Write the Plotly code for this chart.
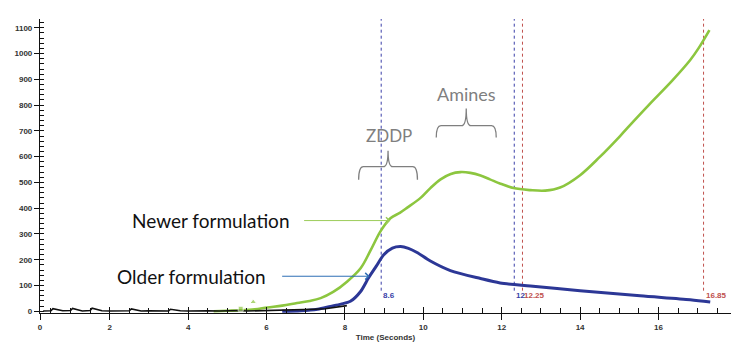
import plotly.graph_objects as go

# ---------------- data ----------------
newer_x = [4.65, 5.0, 5.34, 5.7, 6.02, 6.4, 6.78, 7.1, 7.38, 7.7, 8.06, 8.4, 8.65, 8.91, 9.16, 9.4, 9.59,
           9.93, 10.18, 10.44, 10.7, 10.95, 11.2, 11.46, 11.7, 11.97, 12.3, 12.73, 13.11, 13.49, 14.0,
           14.51, 15.02, 15.35, 15.78, 16.35, 16.81, 17.02, 17.3]
newer_y = [0, 2, 4, 8, 15, 22, 32, 40, 51, 75, 116, 167, 235, 311, 361, 382, 402,
           440, 478, 512, 533, 540, 537, 527, 512, 495, 478, 470, 468, 480, 528,
           600, 680, 735, 805, 895, 975, 1020, 1091]

older_x = [6.4, 6.88, 7.3, 7.63, 7.9, 8.14, 8.4, 8.6, 8.8, 8.99, 9.21, 9.42, 9.62, 9.84, 10.18, 10.69,
           11.46, 11.96, 12.73, 14.0, 15.53, 16.81, 17.32]
older_y = [0, 2, 8, 19, 28, 39, 77, 129, 175, 219, 245, 251, 244, 228, 195, 158,
           127, 110, 98, 80, 60, 45, 36]

base_x = [0.3, 0.5, 0.55, 0.8, 1.0, 1.05, 1.3, 1.5, 1.55, 1.8, 2.0, 2.3, 2.5, 2.55, 2.8, 3.0, 3.3,
          3.5, 3.55, 3.8, 4.0, 4.3, 4.5, 4.8, 5.0, 5.3, 5.5, 5.8, 6.0, 6.3, 6.6, 6.9, 7.2, 7.5, 7.8, 8.05]
base_y = [1, 2, 10, 2, 3, 11, 1, 3, 12, 2, 1, 3, 2, 9, 1, 2, 3,
          1, 8, 2, 1, 3, 2, 1, 2, 3, 1, 2, 4, 3, 5, 6, 8, 10, 15, 22]

flag_x = [5.34, 5.66]
flag_y = [10, 36]

blue_marks = [8.925, 12.32]
blue_labels = ["8.6", "12"]
red_marks = [12.53, 17.15]
red_labels = ["12.25", "16.85"]

x_major = [0.22, 2, 4, 6, 8, 10, 12, 14, 16]
x_major_text = ["0", "2", "4", "6", "8", "10", "12", "14", "16"]
y_major = [0, 100, 200, 300, 400, 500, 600, 700, 800, 900, 1000, 1100]

GREEN = "#8cc63f"
NAVY = "#2c3796"
DBLUE = "#3a3fa8"
RED = "#c0504d"
GRAY = "#7f7f7f"

fig = go.Figure()

# vertical marker lines
for v in blue_marks:
    fig.add_trace(go.Scatter(x=[v, v], y=[80, 1134], mode="lines",
                             line=dict(color=DBLUE, width=1, dash="dot"),
                             showlegend=False, hoverinfo="skip"))
for v in red_marks:
    fig.add_trace(go.Scatter(x=[v, v], y=[80, 1134], mode="lines",
                             line=dict(color=RED, width=1, dash="dot"),
                             showlegend=False, hoverinfo="skip"))

fig.add_trace(go.Scatter(x=newer_x, y=newer_y, mode="lines",
                         line=dict(color=GREEN, width=2.6, shape="spline", smoothing=1.0),
                         showlegend=False))
fig.add_trace(go.Scatter(x=older_x, y=older_y, mode="lines",
                         line=dict(color=NAVY, width=3, shape="spline", smoothing=0.8),
                         showlegend=False))
fig.add_trace(go.Scatter(x=base_x, y=base_y, mode="lines", line=dict(color="#111111", width=1.6),
                         showlegend=False))
fig.add_trace(go.Scatter(x=flag_x, y=flag_y, mode="markers",
                         marker=dict(color=GREEN, size=[5, 6], symbol=["square", "triangle-up"]),
                         showlegend=False))
# invisible trace for overlay axes (crossing ticks)
fig.add_trace(go.Scatter(x=[1], y=[500], xaxis="x2", yaxis="y2", mode="markers",
                         marker=dict(opacity=0), showlegend=False, hoverinfo="skip"))

annotations = []
for v, t in zip(blue_marks, blue_labels):
    annotations.append(dict(x=v, y=60, text="<b>%s</b>" % t, showarrow=False, xanchor="left",
                            yanchor="middle", font=dict(size=8, color=DBLUE, family="Arial")))
for v, t in zip(red_marks, red_labels):
    annotations.append(dict(x=v, y=60, text="<b>%s</b>" % t, showarrow=False, xanchor="left",
                            yanchor="middle", font=dict(size=8, color=RED, family="Arial")))

annotations += [
    dict(x=6.66, y=352, text="Newer formulation", showarrow=False, xanchor="right", yanchor="middle",
         font=dict(size=19, color="#111111", family="Lato")),
    dict(x=6.03, y=136, text="Older formulation", showarrow=False, xanchor="right", yanchor="middle",
         font=dict(size=19, color="#111111", family="Lato")),
    dict(x=9.16, y=352, ax=6.92, ay=352, axref="x", ayref="y", xref="x", yref="y", text="",
         showarrow=True, arrowhead=4, arrowsize=1.3, arrowwidth=1, arrowcolor="#9ccc5a"),
    dict(x=8.63, y=136, ax=6.36, ay=136, axref="x", ayref="y", xref="x", yref="y", text="",
         showarrow=True, arrowhead=4, arrowsize=1.3, arrowwidth=1, arrowcolor="#2e6fb5"),
    dict(x=9.12, y=682, text="ZDDP", showarrow=False, xanchor="center", yanchor="middle",
         font=dict(size=17, color=GRAY, family="Lato")),
    dict(x=11.11, y=842, text="Amines", showarrow=False, xanchor="center", yanchor="middle",
         font=dict(size=18, color=GRAY, family="Lato")),
]


def brace(x0, x1, y_end, y_line, y_tip):
    xc = (x0 + x1) / 2
    r = 0.12
    return ("M %f,%f Q %f,%f %f,%f L %f,%f Q %f,%f %f,%f Q %f,%f %f,%f L %f,%f Q %f,%f %f,%f"
            % (x0, y_end, x0, y_line, x0 + r, y_line,
               xc - r, y_line, xc, y_line, xc, y_tip,
               xc, y_line, xc + r, y_line,
               x1 - r, y_line, x1, y_line, x1, y_end))


shapes = [
    dict(type="path", xref="x", yref="y", path=brace(8.35, 9.85, 510, 561, 623),
         line=dict(color=GRAY, width=1.3)),
    dict(type="path", xref="x", yref="y", path=brace(10.33, 11.86, 674, 720, 787),
         line=dict(color=GRAY, width=1.3)),
]

tickfont = dict(size=8, color="#333333", family="Arial", weight="bold")

fig.update_layout(
    width=745, height=352,
    margin=dict(l=40, r=14, t=19, b=37),
    paper_bgcolor="white", plot_bgcolor="white",
    showlegend=False,
    annotations=annotations,
    shapes=shapes,
    xaxis=dict(range=[0.22, 17.85], showgrid=False, zeroline=False, showline=True,
               linecolor="#111111", linewidth=1.2, ticks="outside", ticklen=6, tickwidth=1.2,
               tickcolor="#111111", tickvals=x_major, ticktext=x_major_text, tickfont=tickfont,
               minor=dict(ticks="inside", ticklen=5, tickwidth=1, tickcolor="#111111", dtick=0.5, tick0=0),
               title=dict(text="<b>Time (Seconds)</b>", font=dict(size=8, color="#333333", family="Arial"),
                          standoff=3)),
    yaxis=dict(range=[-6.6, 1134], showgrid=False, zeroline=False, showline=True,
               linecolor="#111111", linewidth=1.2, ticks="outside", ticklen=5, tickwidth=1.2,
               tickcolor="#111111", tickvals=y_major, tickfont=tickfont,
               minor=dict(ticks="inside", ticklen=4, tickwidth=1, tickcolor="#111111", dtick=20, tick0=0)),
    xaxis2=dict(overlaying="x", matches="x", anchor="y", showgrid=False, zeroline=False, showline=False,
                ticks="inside", ticklen=6, tickwidth=1.2, tickcolor="#111111", tickvals=x_major,
                showticklabels=False),
    yaxis2=dict(overlaying="y", matches="y", anchor="x", side="left", showgrid=False, zeroline=False,
                showline=False, ticks="inside", ticklen=3, tickwidth=1.2, tickcolor="#111111",
                tickvals=y_major, showticklabels=False),
)

fig.write_html("out.html")
